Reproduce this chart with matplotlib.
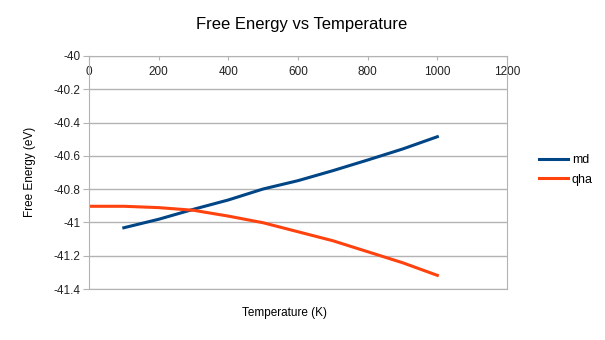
import numpy as np
import matplotlib
matplotlib.use('Agg')
import matplotlib.pyplot as plt
from matplotlib.ticker import FuncFormatter

plt.rcParams['font.family'] = ['Liberation Sans', 'DejaVu Sans']
plt.rcParams['axes.unicode_minus'] = False

# data
md_temp = [100, 200, 300, 400, 500, 600, 700, 800, 900, 1000]
md_energy = [-41.032, -40.981, -40.921, -40.865, -40.799, -40.749,
             -40.689, -40.625, -40.559, -40.485]
qha_temp = [0, 100, 200, 300, 400, 500, 600, 700, 800, 900, 1000]
qha_energy = [-40.903, -40.903, -40.911, -40.927, -40.962, -41.002,
              -41.056, -41.110, -41.176, -41.242, -41.318]
x_ticks = [0, 200, 400, 600, 800, 1000, 1200]
y_ticks = [-40, -40.2, -40.4, -40.6, -40.8, -41, -41.2, -41.4]

grid_col = '#b3b3b3'
fs = 8.5

fig = plt.figure(figsize=(6.05, 3.4), dpi=100)
ax = fig.add_axes([89/605, 1-289/340, (507-89)/605, (289-56)/340])

ax.plot(md_temp, md_energy, color='#004586', lw=2.2, label='md')
ax.plot(qha_temp, qha_energy, color='#ff420e', lw=2.2, label='qha')

ax.set_xlim(0, 1200)
ax.set_ylim(-41.4, -40)
ax.set_xticks(x_ticks)
ax.set_yticks(y_ticks)
ax.yaxis.set_major_formatter(FuncFormatter(lambda v, p: '%g' % v))
ax.grid(axis='y', color=grid_col, lw=1)
ax.set_axisbelow(True)
for s in ax.spines.values():
    s.set_color(grid_col)

# x labels sit just under the top edge, inside the plot
ax.xaxis.set_ticks_position('top')
ax.tick_params(axis='x', direction='in', length=3, color=grid_col, pad=-16,
               labelsize=fs, labelcolor='#222222')
ax.tick_params(axis='y', direction='out', length=4, color=grid_col,
               labelsize=fs, labelcolor='#222222', pad=2)

fig.text(285/605, 1-313/340, 'Temperature (K)', ha='center', va='center', fontsize=fs)
fig.text(30/605, 1-172/340, 'Free Energy (eV)', ha='center', va='center',
         rotation=90, fontsize=fs)
fig.text(302/605, 1-25/340, 'Free Energy vs Temperature', ha='center', va='center',
         fontsize=12)

fig.legend(loc='center left', bbox_to_anchor=(528/605, 1-170/340), frameon=False,
           fontsize=9, handlelength=2.3, handletextpad=0.3, labelspacing=0.6)

fig.savefig('out.png', dpi=100)
